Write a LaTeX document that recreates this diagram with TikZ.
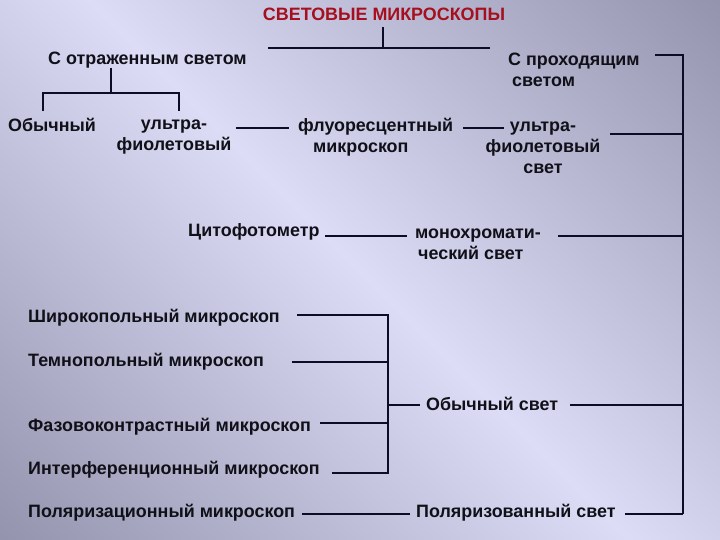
\documentclass[tikz,border=0pt]{standalone}
\usepackage{fontspec}
\setmainfont{Liberation Sans}
\definecolor{bgdark}{HTML}{767690}
\definecolor{bglight}{HTML}{DCDCF6}
\definecolor{txtc}{HTML}{101018}
\definecolor{lnc}{HTML}{0C0C26}
\definecolor{titlec}{HTML}{A50F1E}
\pgfdeclarehorizontalshading{bgsh}{100bp}{color(0bp)=(bgdark); color(50bp)=(bglight); color(100bp)=(bgdark)}
\begin{document}
\begin{tikzpicture}[x=1pt,y=-1pt,
  txt/.style={inner sep=0pt, text=txtc, font=\bfseries\fontsize{17.9}{21}\selectfont},
  ln/.style={draw=lnc, line width=2pt}]
\useasboundingbox (0,0) rectangle (720,540);
\shade[shading=bgsh, shading angle=45] (0,0) rectangle (720,540);

% texts
\node[txt, text=titlec] (title) at (384,14) {СВЕТОВЫЕ МИКРОСКОПЫ};
\node[txt, anchor=west] (refl) at (48,60) {С отраженным светом};
\node[txt, anchor=west, align=left] (trans) at (508,70) {С проходящим\\\hspace*{4pt}светом};
\node[txt, anchor=west] (obych) at (8,125) {Обычный};
\node[txt, align=center] (uv) at (174,137) {ультра-\\фиолетовый};
\node[txt, anchor=west, align=left] (fluo) at (298,137) {флуоресцентный\\\hspace*{15pt}микроскоп};
\node[txt, align=center] (uvl) at (543,148) {ультра-\\фиолетовый\\свет};
\node[txt, anchor=west] (cyto) at (188,232) {Цитофотометр};
\node[txt, anchor=west, align=left] (mono) at (415,244) {монохромати-\\\hspace*{3pt}ческий свет};
\node[txt, anchor=west] (shir) at (28,318) {Широкопольный микроскоп};
\node[txt, anchor=west] (temn) at (28,362) {Темнопольный микроскоп};
\node[txt, anchor=west] (faz) at (28,427) {Фазовоконтрастный микроскоп};
\node[txt, anchor=west] (inter) at (28,470) {Интерференционный микроскоп};
\node[txt, anchor=west] (polm) at (28,513) {Поляризационный микроскоп};
\node[txt, anchor=west] (obsv) at (426,404) {Обычный свет};
\node[txt, anchor=west] (polsv) at (416,513) {Поляризованный свет};

% junction coordinates
\coordinate (tstem) at (383,27);
\coordinate (tj) at (383,48);
\coordinate (tl) at (268,48);
\coordinate (tr) at (490,48);
\coordinate (rstem) at (111,68);
\coordinate (rj) at (111,93);
\coordinate (rl) at (43,93);
\coordinate (rr) at (179,93);
\coordinate (rlb) at (43,111);
\coordinate (rrb) at (179,111);
\coordinate (bt) at (683,55);
\coordinate (bb) at (683,514);
\coordinate (lb) at (388,405);

% connectors
\draw[ln] (tstem) -- (tj);
\draw[ln] (tl) -- (tr);
\draw[ln] (rstem) -- (rj);
\draw[ln] (rlb) |- (rr) -- (rrb);
\draw[ln] (236,128) coordinate (uvR) -- (289,128) coordinate (fluoL);
\draw[ln] (463,128) coordinate (fluoR) -- (504,128) coordinate (uvlL);
\draw[ln] (655,55) coordinate (transR) -- (bt) -- (bb);
\draw[ln] (610,134) coordinate (uvlR) -- (683,134);
\draw[ln] (325,236) coordinate (cytoR) -- (407,236) coordinate (monoL);
\draw[ln] (558,236) coordinate (monoR) -- (683,236);
\draw[ln] (297,315) coordinate (shirR) -| (388,473) -- (332,473) coordinate (interR);
\draw[ln] (292,362) coordinate (temnR) -- (388,362);
\draw[ln] (320,423) coordinate (fazR) -- (388,423);
\draw[ln] (lb) -- (420,405) coordinate (obsvL);
\draw[ln] (570,405) coordinate (obsvR) -- (683,405);
\draw[ln] (302,514) coordinate (polmR) -- (410,514) coordinate (polsvL);
\draw[ln] (625,514) coordinate (polsvR) -- (bb);
\end{tikzpicture}
\end{document}
